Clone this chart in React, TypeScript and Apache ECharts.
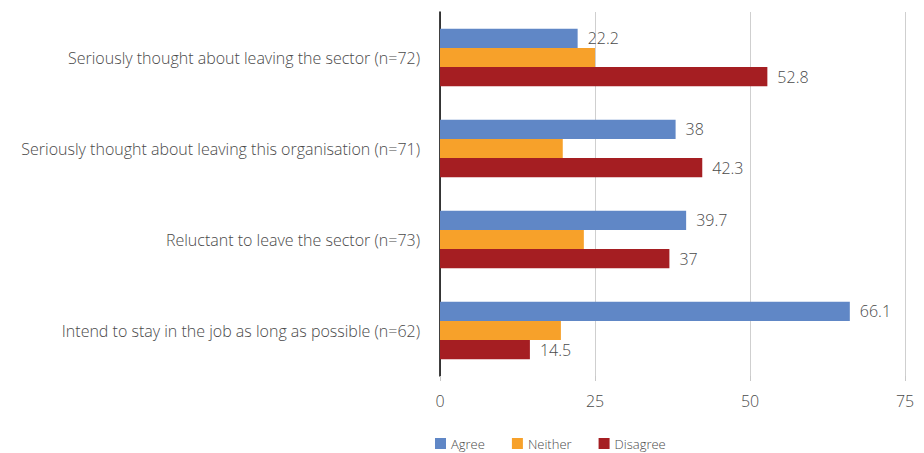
import React, { useEffect, useRef } from "react";
import * as echarts from "echarts";

const categories = [
  "Seriously thought about leaving the sector (n=72)",
  "Seriously thought about leaving this organisation (n=71)",
  "Reluctant to leave the sector (n=73)",
  "Intend to stay in the job as long as possible (n=62)",
];
const agree = [22.2, 38, 39.7, 66.1];
const neither = [25.0, 19.8, 23.2, 19.5];
const disagree = [52.8, 42.3, 37, 14.5];
const xTicks = [0, 25, 50, 75];

const FONT = "'Open Sans', 'Noto Sans', sans-serif";
const TXT = "#4a4a4a";

export default function App() {
  const ref = useRef<HTMLDivElement>(null);
  useEffect(() => {
    document.body.style.margin = "0";
    if (!ref.current) return;
    const chart = echarts.init(ref.current, undefined, { renderer: "svg" });
    const label = {
      show: true,
      position: "right",
      distance: 10,
      color: TXT,
      fontSize: 16,
      fontWeight: 300,
      fontFamily: FONT,
    };
    chart.setOption({
      animation: false,
      textStyle: { fontFamily: FONT },
      grid: { left: 440, right: 19, top: 12, bottom: 77, containLabel: false },
      legend: {
        left: 430,
        bottom: -2,
        itemWidth: 11,
        itemHeight: 11,
        itemGap: 27,
        icon: "rect",
        textStyle: { color: TXT, fontSize: 13, fontWeight: 300, fontFamily: FONT },
        data: ["Agree", "Neither", "Disagree"],
      },
      xAxis: {
        type: "value",
        min: xTicks[0],
        max: xTicks[xTicks.length - 1],
        interval: 25,
        axisLine: { show: false },
        axisTick: { show: true, length: 5, lineStyle: { color: "#c8c8c8" } },
        splitLine: { show: true, lineStyle: { color: "#cfcfcf", width: 1 } },
        axisLabel: { color: TXT, fontSize: 16, fontWeight: 300, margin: 17, fontFamily: FONT },
      },
      yAxis: {
        type: "category",
        inverse: true,
        data: categories,
        axisLine: { show: true, lineStyle: { color: "#000", width: 1.5 } },
        axisTick: { show: false },
        axisLabel: {
          color: TXT,
          fontSize: 16,
          fontWeight: 300,
          margin: 20,
          fontFamily: FONT,
          padding: [4, 0, 0, 0],
        },
      },
      series: [
        {
          name: "Agree",
          type: "bar",
          data: agree,
          barGap: "0%",
          barCategoryGap: "37%",
          itemStyle: { color: "#6087c6" },
          label,
        },
        {
          name: "Neither",
          type: "bar",
          data: neither,
          barGap: "0%",
          barCategoryGap: "37%",
          itemStyle: { color: "#f7a12a" },
        },
        {
          name: "Disagree",
          type: "bar",
          data: disagree,
          barGap: "0%",
          barCategoryGap: "37%",
          itemStyle: { color: "#a51e22" },
          label,
        },
      ],
    });
    return () => chart.dispose();
  }, []);
  return <div ref={ref} style={{ width: 924, height: 453 }} />;
}
